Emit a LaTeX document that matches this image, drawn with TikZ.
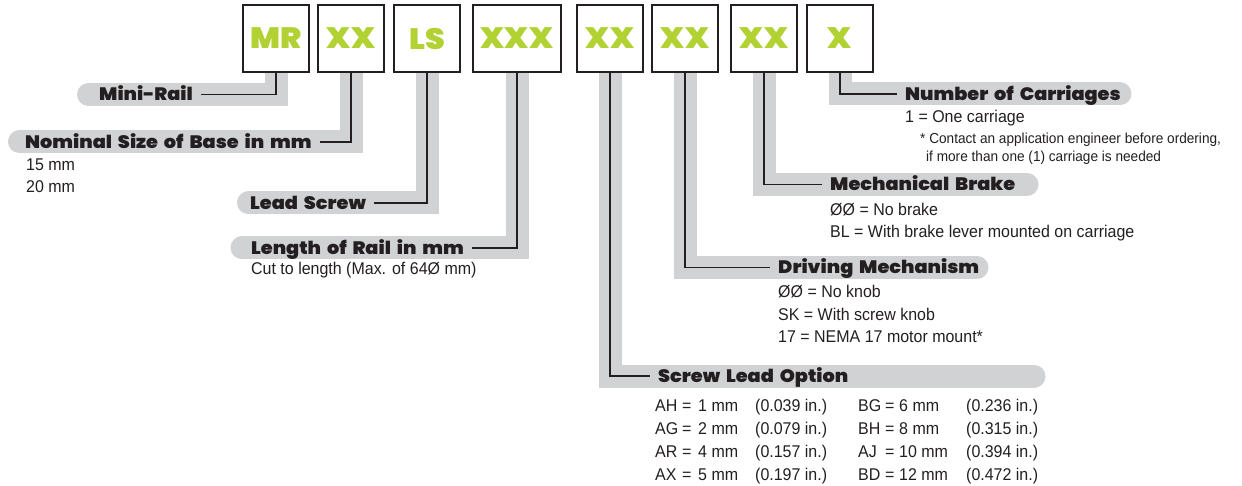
\documentclass[tikz,border=0pt]{standalone}
\usepackage{fontspec}
\setmainfont{Liberation Sans}[FakeStretch=0.94]
\newfontfamily\heavyfont{Poppins Black}[FakeStretch=1.07, WordSpace=1.8]
\definecolor{ink}{RGB}{35,31,32}
\definecolor{band}{RGB}{209,210,212}
\definecolor{lime}{RGB}{178,210,52}
\pgfdeclarelayer{bg}
\pgfsetlayers{bg,main}
\begin{document}
\begin{tikzpicture}[x=1pt,y=-1pt,
  codebox/.style={draw=ink, line width=2pt, fill=white, minimum height=67pt, minimum width=66pt, inner sep=0pt, font=\heavyfont\fontsize{29.5}{29.5}\selectfont, text=lime},
  head/.style={anchor=west, inner xsep=8pt, inner ysep=0pt, text height=12.5pt, text depth=0pt, font=\heavyfont\fontsize{18}{18}\selectfont, text=ink},
  body/.style={anchor=base west, inner sep=0pt, font=\fontsize{17}{20}\selectfont, text=ink},
  note/.style={anchor=base west, inner sep=0pt, font=\fontsize{14.5}{17}\selectfont, text=ink},
  bandline/.style={draw=band, line width=23pt, line cap=round, line join=miter},
  wire/.style={draw=ink, line width=1.9pt},
]
\useasboundingbox (0,0) rectangle (1242,486);

% code boxes
\node[codebox] (mr) at (276,38.5) {MR};
\node[codebox] (size) at (351,38.5) {XX};
\node[codebox] (ls) at (427,38.5) {LS};
\node[codebox, minimum width=88pt] (len) at (517,38.5) {XXX};
\node[codebox] (lead) at (610,38.5) {XX};
\node[codebox] (drv) at (685,38.5) {XX};
\node[codebox] (brk) at (764,38.5) {XX};
\node[codebox] (car) at (840,38.5) {X};

% headings
\node[head] (minirail) at (91,94.5) {Mini-Rail};
\node[head] (nominal) at (17,142) {Nominal Size of Base in mm};
\node[head] (leadscrew) at (242,203) {Lead Screw};
\node[head] (raillen) at (243,248) {Length of Rail in mm};
\node[head] (carriages) at (897,94) {Number of Carriages};
\node[head] (brake) at (822,184.5) {Mechanical Brake};
\node[head] (drive) at (770,267.5) {Driving Mechanism};
\node[head] (screwlead) at (650,376) {Screw Lead Option};

% band ends
\coordinate (mrEnd) at (88.5,94.5);
\coordinate (sizeEnd) at (19.5,142);
\coordinate (lsEnd) at (248.5,203);
\coordinate (lenEnd) at (242,248);
\coordinate (carEnd) at (1120,94);
\coordinate (brkEnd) at (1027,184.5);
\coordinate (drvEnd) at (977,267.5);
\coordinate (leadEnd) at (1034,376);

\begin{pgfonlayer}{bg}
  \draw[bandline] (mr.south) |- (mrEnd);
  \draw[bandline] (size.south) |- (sizeEnd);
  \draw[bandline] (ls.south) |- (lsEnd);
  \draw[bandline] (len.south) |- (lenEnd);
  \draw[bandline] (car.south) |- (carEnd);
  \draw[bandline] (brk.south) |- (brkEnd);
  \draw[bandline] (drv.south) |- (drvEnd);
  \draw[bandline] (lead.south) |- (leadEnd);
\end{pgfonlayer}

% connectors
\draw[wire] (mr.south) |- (minirail.east);
\draw[wire] (size.south) |- (nominal.east);
\draw[wire] (ls.south) |- (leadscrew.east);
\draw[wire] (len.south) |- (raillen.east);
\draw[wire] (car.south) |- (carriages.west);
\draw[wire] (brk.south) |- (brake.west);
\draw[wire] (drv.south) |- (drive.west);
\draw[wire] (lead.south) |- (screwlead.west);

% descriptions
\node[body] (n15) at (26,171) {15 mm};
\node[body] (n20) at (26,193) {20 mm};
\node[body] (cut) at (251,275) {Cut to length (Max. of 64Ø mm)};
\node[body] (one) at (905,123) {1 = One carriage};
\node[note] (contactA) at (920,144) {* Contact an application engineer before ordering,};
\node[note] (contactB) at (926,162) {if more than one (1) carriage is needed};
\node[body] (nobrake) at (830,216) {ØØ = No brake};
\node[body] (lever) at (830,238) {BL = With brake lever mounted on carriage};
\node[body] (noknob) at (778,298) {ØØ = No knob};
\node[body] (knob) at (778,320) {SK = With screw knob};
\node[body] (nema) at (778,342) {17 = NEMA 17 motor mount*};

% screw lead table
\foreach \yb/\ca/\va/\ia/\cb/\vb/\ib [count=\k] in {
  411/AH/1 mm/(0.039 in.)/BG/6 mm/(0.236 in.),
  434/AG/2 mm/(0.079 in.)/BH/8 mm/(0.315 in.),
  457/AR/4 mm/(0.157 in.)/AJ/10 mm/(0.394 in.),
  480/AX/5 mm/(0.197 in.)/BD/12 mm/(0.472 in.)} {
  \node[body] (codeA\k) at (655,\yb) {\ca};
  \node[body] (eqA\k) at (682,\yb) {=};
  \node[body] (valA\k) at (698,\yb) {\va};
  \node[body] (inA\k) at (755,\yb) {\ia};
  \node[body] (codeB\k) at (858,\yb) {\cb};
  \node[body] (eqB\k) at (885,\yb) {=};
  \node[body] (valB\k) at (899,\yb) {\vb};
  \node[body] (inB\k) at (966,\yb) {\ib};
}
\end{tikzpicture}
\end{document}
